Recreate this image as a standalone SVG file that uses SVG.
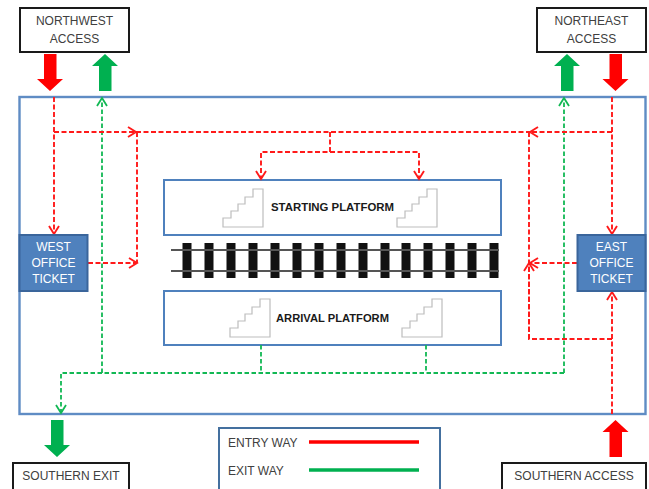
<svg xmlns="http://www.w3.org/2000/svg" width="649" height="489" viewBox="0 0 649 489">
<style>
text{font-family:"Liberation Sans",Arial,sans-serif;font-size:12px;fill:#404040;text-anchor:middle}
.box{fill:#fff;stroke:#1a1a1a;stroke-width:2}
.plat{fill:#fff;stroke:#4f81bd;stroke-width:2}
.office{fill:#4f81bd;stroke:#3a659b;stroke-width:2}
.otext{fill:#fff}
.stair{fill:#fff;stroke:#bdbdbd;stroke-width:1.200}
.b{font-weight:bold;font-size:11px;fill:#1a1a1a}
.r{fill:none;stroke:#ff1a1a;stroke-width:1.900;stroke-dasharray:5 2.500}
.g{fill:none;stroke:#12b854;stroke-width:1.800;stroke-dasharray:4.500 2.500}
.start-r{marker-end:url(#ar)}
.start-g{marker-end:url(#ag)}
.rail{stroke:#555;stroke-width:2}
</style>
<defs>
<marker id="ar" markerUnits="userSpaceOnUse" markerWidth="12" markerHeight="14" refX="10" refY="7" orient="auto"><path d="M2 2L10 7L2 12" fill="none" stroke="#ff1a1a" stroke-width="1.900" stroke-dasharray="none"/></marker>
<marker id="ag" markerUnits="userSpaceOnUse" markerWidth="12" markerHeight="14" refX="10" refY="7" orient="auto"><path d="M2 2L10 7L2 12" fill="none" stroke="#12b854" stroke-width="1.800"/></marker>
<path id="stairs" class="stair" d="M263 189V227H223V218H231V211H238V204H245V197H253V189Z"/>
<path id="dn" d="M-6-37H6.500V-12H13L0 0L-13-12H-6Z"/>
<path id="up" d="M-6 37H6.500V12H13L0 0L-13 12H-6Z"/>
</defs>
<g id="station"><rect x="19.500" y="97" width="626" height="317" fill="#fff" stroke="#5f8cc4" stroke-width="2.400"/></g>
<g id="starting-platform"><rect class="plat" x="164" y="180" width="337" height="55"/><use href="#stairs"/><use href="#stairs" x="174"/><text class="b" x="332.500" y="211" textLength="123" lengthAdjust="spacingAndGlyphs">STARTING PLATFORM</text></g>
<g id="arrival-platform"><rect class="plat" x="164" y="291" width="337" height="54"/><use href="#stairs" x="7" y="110"/><use href="#stairs" x="179" y="110"/><text class="b" x="332.500" y="322" textLength="113" lengthAdjust="spacingAndGlyphs">ARRIVAL PLATFORM</text></g>
<g id="track">
<g fill="#111"><rect x="182.500" y="243" width="9" height="35"/><rect x="204.500" y="243" width="9" height="35"/><rect x="226.500" y="243" width="9" height="35"/><rect x="248.500" y="243" width="9" height="35"/><rect x="270.500" y="243" width="9" height="35"/><rect x="292.500" y="243" width="9" height="35"/><rect x="314.500" y="243" width="9" height="35"/><rect x="336.500" y="243" width="9" height="35"/><rect x="358.500" y="243" width="9" height="35"/><rect x="380.500" y="243" width="9" height="35"/><rect x="401.500" y="243" width="9" height="35"/><rect x="423.500" y="243" width="9" height="35"/><rect x="445.500" y="243" width="9" height="35"/><rect x="467.500" y="243" width="9" height="35"/><rect x="489.500" y="243" width="9" height="35"/></g>
<path class="rail" d="M171 250H499M171 271H499"/>
</g>
<g id="connectors">
<path class="g start-g" d="M102 373V98"/>
<path class="g start-g" d="M564 373V98"/>
<path class="g start-g" d="M564 373H61V413"/>
<path class="g" d="M261 345V373M426 345V373"/>
<path class="r start-r" d="M54 97V234"/>
<path class="r start-r" d="M54 132H136"/>
<path class="r" d="M136 132H530M137 132V263"/>
<path class="r start-r" d="M88 263H137"/>
<path class="r start-r" d="M330 132V152H261V179"/>
<path class="r start-r" d="M330 152H419V179"/>
<path class="r start-r" d="M612 97V234"/>
<path class="r start-r" d="M612 132H530"/>
<path class="r" d="M529 132V339H612"/>
<path class="r start-r" d="M529 339V263"/>
<path class="r start-r" d="M577 263H530"/>
<path class="r start-r" d="M612 414V292"/>
</g>
<g id="west-office"><rect class="office" x="19.500" y="235" width="68" height="56"/><text class="otext" x="53.500" y="251">WEST</text><text class="otext" x="53.500" y="267">OFFICE</text><text class="otext" x="53.500" y="283">TICKET</text></g>
<g id="east-office"><rect class="office" x="577.500" y="235" width="68" height="56"/><text class="otext" x="611.500" y="251">EAST</text><text class="otext" x="611.500" y="267">OFFICE</text><text class="otext" x="611.500" y="283">TICKET</text></g>
<g id="northwest-access"><rect class="box" x="20" y="8" width="109" height="44"/><text x="74.500" y="25">NORTHWEST</text><text x="74.500" y="43">ACCESS</text></g>
<g id="northeast-access"><rect class="box" x="537" y="8" width="109" height="44"/><text x="591.500" y="25">NORTHEAST</text><text x="591.500" y="43">ACCESS</text></g>
<g id="southern-exit"><rect class="box" x="13" y="463" width="116" height="40"/><text x="71" y="480">SOUTHERN EXIT</text></g>
<g id="southern-access"><rect class="box" x="502" y="463" width="144" height="40"/><text x="574" y="480">SOUTHERN ACCESS</text></g>
<g id="flow-arrows">
<use href="#dn" x="50" y="91" fill="#ff0000"/>
<use href="#up" x="105" y="54" fill="#00b050"/>
<use href="#up" x="567" y="54" fill="#00b050"/>
<use href="#dn" x="615.500" y="91" fill="#ff0000"/>
<use href="#dn" x="57" y="457" fill="#00b050"/>
<use href="#up" x="615.500" y="420" fill="#ff0000"/>
</g>
<g id="legend"><rect x="219" y="428" width="221" height="75" fill="#fff" stroke="#44709f" stroke-width="2"/>
<text x="228" y="447" style="text-anchor:start">ENTRY WAY</text><text x="228" y="475" style="text-anchor:start">EXIT WAY</text>
<path d="M309 442H419" stroke="#ff0000" stroke-width="3.500"/><path d="M309 470H419" stroke="#00b050" stroke-width="3.500"/></g>
</svg>
